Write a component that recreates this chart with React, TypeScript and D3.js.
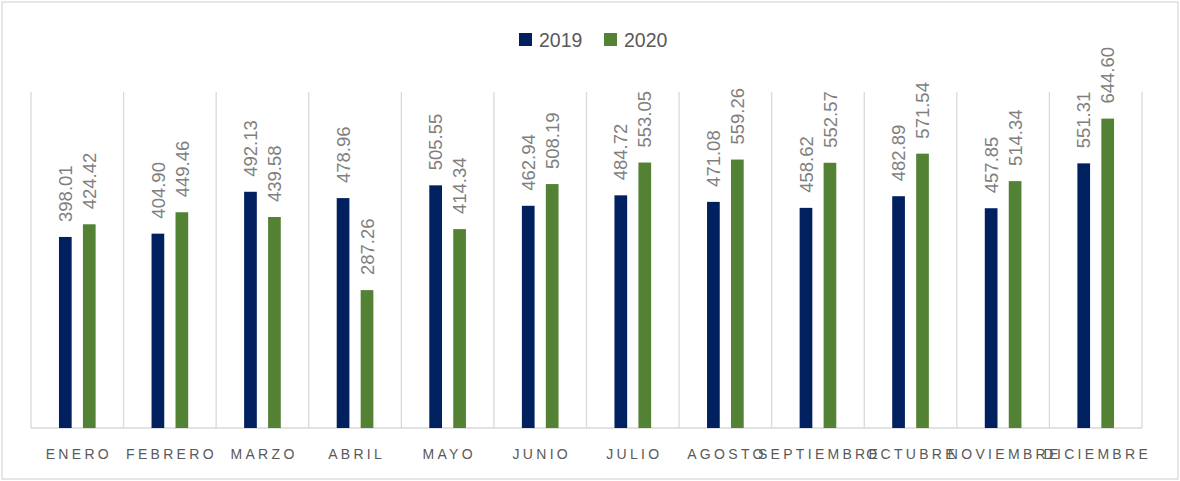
import { useEffect, useRef } from "react";
import * as d3 from "d3";

const months = [
  "ENERO",
  "FEBRERO",
  "MARZO",
  "ABRIL",
  "MAYO",
  "JUNIO",
  "JULIO",
  "AGOSTO",
  "SEPTIEMBRE",
  "OCTUBRE",
  "NOVIEMBRE",
  "DICIEMBRE",
];
const series = ["2019", "2020"];
const values2019 = [398.01, 404.9, 492.13, 478.96, 505.55, 462.94, 484.72, 471.08, 458.62, 482.89, 457.85, 551.31];
const values2020 = [424.42, 449.46, 439.58, 287.26, 414.34, 508.19, 553.05, 559.26, 552.57, 571.54, 514.34, 644.6];
const colors = ["#002060", "#548235"];

export default function App() {
  const ref = useRef<SVGSVGElement | null>(null);

  useEffect(() => {
    const width = 1180;
    const height = 481;
    const margin = { top: 92, right: 38, bottom: 53, left: 31 };
    const font = "'Liberation Sans', Arial, sans-serif";

    const svg = d3.select(ref.current);
    svg.selectAll("*").remove();

    svg
      .append("rect")
      .attr("x", 2)
      .attr("y", 2)
      .attr("width", 1176)
      .attr("height", 477)
      .attr("fill", "#fff")
      .attr("stroke", "#d9d9d9")
      .attr("stroke-width", 1.3);

    const x0 = d3
      .scaleBand()
      .domain(months)
      .range([margin.left, width - margin.right])
      .padding(0);

    const bw = x0.bandwidth();
    const x1 = d3
      .scaleBand()
      .domain(series)
      .range([bw * 0.302, bw * 0.698])
      .paddingInner(0.47)
      .paddingOuter(0);

    const y = d3
      .scaleLinear()
      .domain([0, 700])
      .range([height - margin.bottom, margin.top]);

    // vertical gridlines between categories
    const bounds = months.map((m) => x0(m)!).concat([x0(months[months.length - 1])! + bw]);
    svg
      .append("g")
      .selectAll("line")
      .data(bounds)
      .enter()
      .append("line")
      .attr("x1", (d) => d)
      .attr("x2", (d) => d)
      .attr("y1", y(700))
      .attr("y2", y(0))
      .attr("stroke", "#d9d9d9")
      .attr("stroke-width", 1.3);

    svg
      .append("line")
      .attr("x1", margin.left)
      .attr("x2", width - margin.right)
      .attr("y1", y(0))
      .attr("y2", y(0))
      .attr("stroke", "#d9d9d9")
      .attr("stroke-width", 1.3);

    const rows = months.map((m, i) => ({
      month: m,
      vals: [values2019[i], values2020[i]],
    }));

    const groups = svg
      .append("g")
      .selectAll("g")
      .data(rows)
      .enter()
      .append("g")
      .attr("transform", (d) => `translate(${x0(d.month)},0)`);

    groups
      .selectAll("rect")
      .data((d) => d.vals.map((v, j) => ({ key: series[j], v, j })))
      .enter()
      .append("rect")
      .attr("x", (d) => x1(d.key)!)
      .attr("y", (d) => y(d.v))
      .attr("width", x1.bandwidth())
      .attr("height", (d) => y(0) - y(d.v))
      .attr("fill", (d) => colors[d.j]);

    groups
      .selectAll("text")
      .data((d) => d.vals.map((v, j) => ({ key: series[j], v, j })))
      .enter()
      .append("text")
      .attr("transform", (d) => `translate(${x1(d.key)! + x1.bandwidth() / 2},${y(d.v) - 15}) rotate(-90)`)
      .attr("dy", "0.36em")
      .attr("font-family", font)
      .attr("font-size", 18.5)
      .attr("fill", "#7f7f7f")
      .text((d) => d.v.toFixed(2));

    // category labels
    svg
      .append("g")
      .selectAll("text")
      .data(months)
      .enter()
      .append("text")
      .attr("x", (d) => x0(d)! + bw / 2 + 1.6)
      .attr("y", 459)
      .attr("text-anchor", "middle")
      .attr("font-family", font)
      .attr("font-size", 14)
      .attr("letter-spacing", 3.3)
      .attr("fill", "#595959")
      .text((d) => d);

    // legend
    const legendX = [519, 604];
    const legend = svg
      .append("g")
      .selectAll("g")
      .data(series)
      .enter()
      .append("g")
      .attr("transform", (d, i) => `translate(${legendX[i]},33)`);
    legend
      .append("rect")
      .attr("width", 13)
      .attr("height", 13)
      .attr("fill", (d, i) => colors[i]);
    legend
      .append("text")
      .attr("x", 20)
      .attr("y", 14)
      .attr("font-family", font)
      .attr("font-size", 19.5)
      .attr("fill", "#595959")
      .text((d) => d);
  }, []);

  return (
    <svg
      ref={ref}
      width={1180}
      height={481}
      style={{ position: "absolute", left: 0, top: 0 }}
    />
  );
}
